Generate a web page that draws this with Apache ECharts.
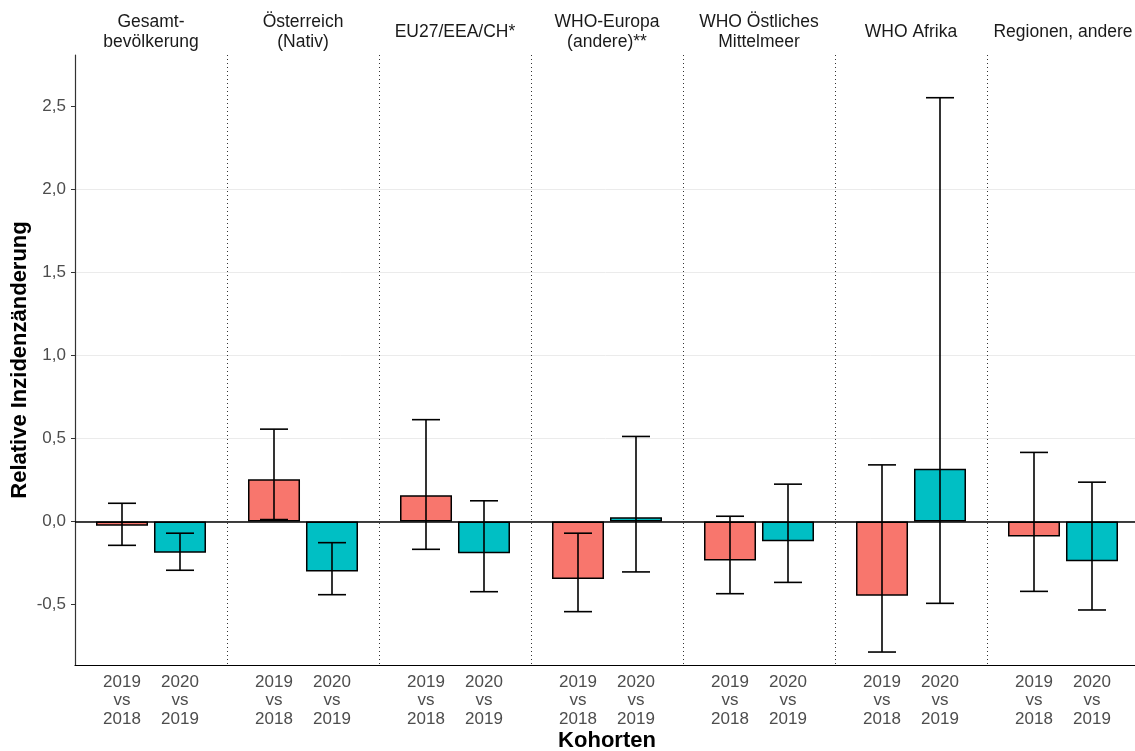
<!DOCTYPE html>
<html>
<head>
<meta charset="utf-8">
<script src="https://cdn.jsdelivr.net/npm/echarts@6/dist/echarts.min.js"></script>
<style>
  html, body { margin: 0; padding: 0; background: #fff; }
  #chart { width: 1135px; height: 751px; }
</style>
</head>
<body>
<div id="chart"></div>
<script>
// Kohorten (Facetten)
const facets = ['Gesamt-\nbevölkerung', 'Österreich\n(Nativ)', 'EU27/EEA/CH*', 'WHO-Europa\n(andere)**',
  'WHO Östliches\nMittelmeer', 'WHO Afrika', 'Regionen, andere']
const barLabels = [['2019', 'vs', '2018'], ['2020', 'vs', '2019']]

// 2019 vs 2018
const val1918 = [-0.025, 0.255, 0.158, -0.345, -0.235, -0.446, -0.09]
const low1918 = [-0.143, 0.012, -0.167, -0.542, -0.434, -0.785, -0.42]
const high1918 = [0.11, 0.556, 0.613, -0.07, 0.032, 0.341, 0.416]
// 2020 vs 2019
const val2019 = [-0.187, -0.301, -0.191, 0.026, -0.119, 0.317, -0.239]
const low2019 = [-0.293, -0.44, -0.422, -0.303, -0.366, -0.492, -0.532]
const high2019 = [-0.07, -0.127, 0.125, 0.512, 0.225, 2.55, 0.237]

const yTicks = [-0.5, 0, 0.5, 1, 1.5, 2, 2.5]

const font = 'Liberation Sans, Arial, sans-serif'
const FACET_W = 152

function errorBars(side) {
  return function (params, api) {
    const bw = api.size([1, 0])[0]
    const x = api.coord([api.value(0), 0])[0] + side * bw * 29 / FACET_W
    const cap = bw * 14 / FACET_W
    const yl = api.coord([api.value(0), api.value(1)])[1]
    const yh = api.coord([api.value(0), api.value(2)])[1]
    const style = { stroke: '#000', lineWidth: 1.6 }
    return {
      type: 'group',
      children: [
        { type: 'line', shape: { x1: x, y1: yl, x2: x, y2: yh }, style },
        { type: 'line', shape: { x1: x - cap, y1: yl, x2: x + cap, y2: yl }, style },
        { type: 'line', shape: { x1: x - cap, y1: yh, x2: x + cap, y2: yh }, style },
      ],
    }
  }
}

const chart = echarts.init(document.getElementById('chart'))
chart.setOption({
  animation: false,
  backgroundColor: '#fff',
  textStyle: { fontFamily: font },
  grid: { left: 75, top: 55, width: 1064, height: 610, containLabel: false, outerBoundsMode: 'none' },
  xAxis: [
    {
      type: 'category',
      data: facets,
      position: 'bottom',
      axisLine: { show: true, onZero: false, lineStyle: { color: '#000', width: 1.2 } },
      axisTick: { show: false },
      splitLine: { show: true, lineStyle: { color: '#333', type: [1, 3], width: 1 } },
      axisLabel: {
        margin: 8,
        interval: 0,
        formatter: function () {
          let s = []
          for (let i = 0; i < 3; i++) {
            s.push('{a|' + barLabels[0][i] + '}{b|' + barLabels[1][i] + '}')
          }
          return s.join('\n')
        },
        rich: {
          a: { width: 58, align: 'center', fontSize: 17, lineHeight: 18.5, color: '#4d4d4d', fontFamily: font },
          b: { width: 58, align: 'center', fontSize: 17, lineHeight: 18.5, color: '#4d4d4d', fontFamily: font },
        },
      },
      name: 'Kohorten',
      nameLocation: 'middle',
      nameGap: 65,
      nameMoveOverlap: false,
      nameTextStyle: { fontSize: 22, fontWeight: 'bold', color: '#000', fontFamily: font },
    },
    {
      type: 'category',
      data: facets,
      position: 'top',
      axisLine: { show: false },
      axisTick: { show: false },
      axisLabel: {
        interval: 0,
        margin: 22.5,
        verticalAlign: 'middle',
        fontSize: 17.5,
        lineHeight: 20,
        color: '#1a1a1a',
        fontFamily: font,
      },
    },
  ],
  yAxis: {
    type: 'value',
    min: -0.863,
    max: 2.807,
    minInterval: 0.5,
    maxInterval: 0.5,
    axisLine: { show: true, lineStyle: { color: '#333', width: 1.2 } },
    axisTick: { show: true, length: 4, customValues: yTicks, lineStyle: { color: '#333' } },
    axisLabel: {
      customValues: yTicks,
      fontSize: 17,
      color: '#4d4d4d',
      margin: 9,
      fontFamily: font,
      formatter: (v) => v.toFixed(1).replace('.', ','),
    },
    splitLine: { show: true, showMinLine: false, showMaxLine: false, lineStyle: { color: '#ebebeb', width: 1 } },
    name: 'Relative Inzidenzänderung',
    nameLocation: 'middle',
    nameGap: 44,
    nameMoveOverlap: false,
    nameTextStyle: { fontSize: 22, fontWeight: 'bold', color: '#000', fontFamily: font },
  },
  series: [
    {
      name: '2019 vs 2018',
      type: 'bar',
      data: val1918,
      barWidth: 52,
      barGap: '11.5%',
      itemStyle: { color: '#F8766D', borderColor: '#000', borderWidth: 1.5 },
      markLine: {
        silent: true,
        symbol: 'none',
        label: { show: false },
        lineStyle: { color: '#000', type: 'solid', width: 1.5 },
        data: [{ yAxis: 0 }],
      },
    },
    {
      name: '2020 vs 2019',
      type: 'bar',
      data: val2019,
      barWidth: 52,
      itemStyle: { color: '#00BFC4', borderColor: '#000', borderWidth: 1.5 },
    },
    {
      type: 'custom',
      z: 5,
      renderItem: errorBars(-1),
      data: facets.map((f, i) => [i, low1918[i], high1918[i]]),
    },
    {
      type: 'custom',
      z: 5,
      renderItem: errorBars(1),
      data: facets.map((f, i) => [i, low2019[i], high2019[i]]),
    },
  ],
})
window.addEventListener('resize', () => {
  chart.resize()
})
</script>
</body>
</html>
